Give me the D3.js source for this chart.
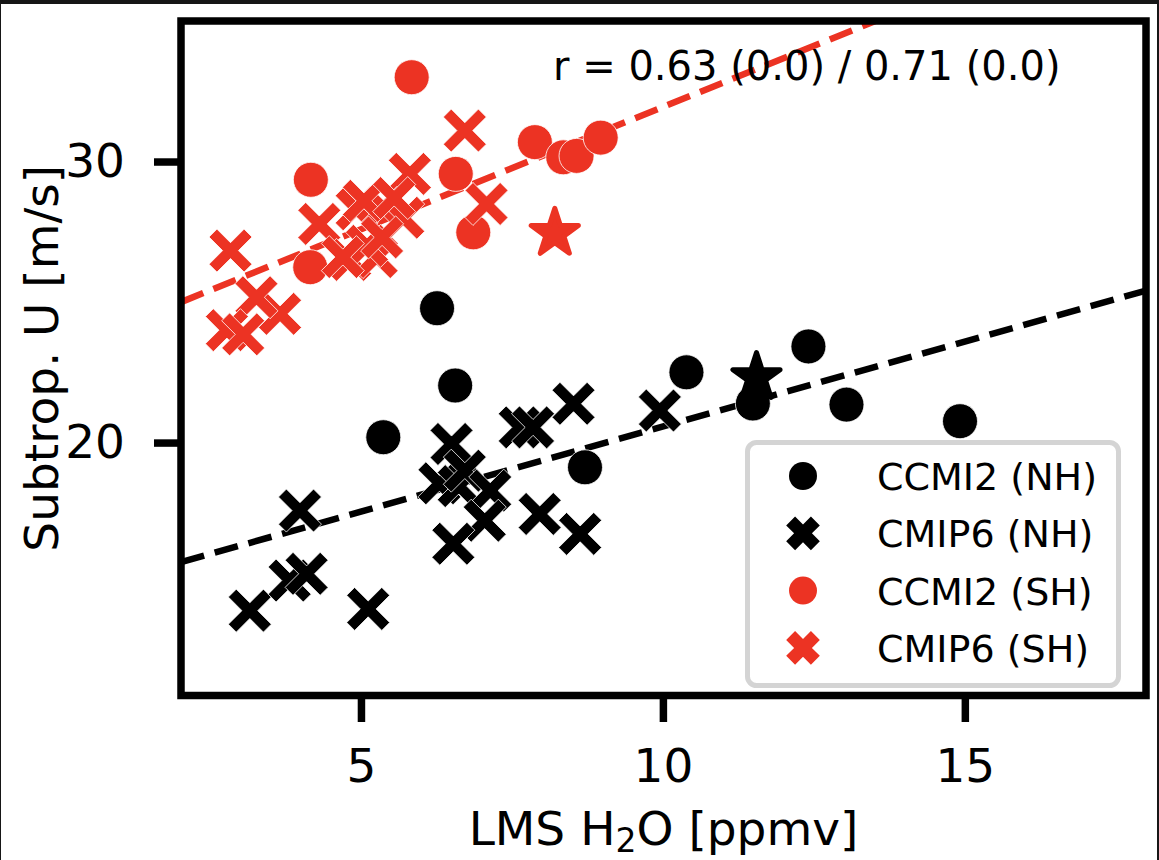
<!DOCTYPE html>
<html>
<head>
<meta charset="utf-8">
<script src="https://cdn.jsdelivr.net/npm/d3@7"></script>
<style>
  body { margin: 0; background: #fff; }
  svg { display: block; font-family: "DejaVu Sans", sans-serif; }
</style>
</head>
<body>
<svg id="chart" width="1159" height="860"></svg>
<script>
// ---- data ----
var xTicks = [5, 10, 15];
var yTicks = [20, 30];
var xDomain = [2.02, 18.0];
var yDomain = [11, 35];

// CCMI2 NH (black circles)
var ccmiNH = [[6.26, 24.78], [6.56, 22.03], [5.37, 20.19], [8.71, 19.12], [10.39, 22.5],
              [11.49, 21.39], [12.41, 23.42], [13.04, 21.35], [14.92, 20.76]];
// CMIP6 NH (black crosses)
var cmipNH = [[3.99, 17.58], [3.16, 14.02], [3.82, 15.09], [4.10, 15.33], [5.12, 14.08],
              [6.50, 19.95], [6.30, 18.55], [6.62, 18.45], [6.72, 19.0], [7.14, 18.29],
              [7.05, 17.22], [6.53, 16.4], [7.63, 20.54], [7.85, 20.54], [8.52, 21.38],
              [7.96, 17.46], [8.63, 16.75], [9.95, 21.14]];
// CCMI2 SH (red circles)
var ccmiSH = [[5.84, 33.0], [4.17, 29.35], [6.57, 29.56], [7.88, 30.69], [8.35, 30.15],
              [8.57, 30.2], [8.97, 30.85], [6.86, 27.48], [4.16, 26.24]];
// CMIP6 SH (red crosses)
var cmipSH = [[6.72, 31.1], [5.81, 29.56], [7.08, 28.49], [4.31, 27.78], [2.84, 26.83],
              [3.66, 24.58], [3.27, 25.17], [2.78, 24.0], [3.05, 23.85], [4.82, 26.5],
              [5.26, 26.6], [4.93, 28.3], [5.37, 28.35], [5.7, 28.0], [5.1, 27.0],
              [5.35, 27.3], [4.7, 26.6], [5.05, 28.6], [5.55, 28.7]];
// multi-model means (stars)
var meanNH = [[11.55, 22.32]];
var meanSH = [[8.21, 27.45]];

// regression fits: [intercept, slope]
var fitNH = [14.52, 0.605];
var fitSH = [23.24, 0.87];

var legendNames = ["CCMI2 (NH)", "CMIP6 (NH)", "CCMI2 (SH)", "CMIP6 (SH)"];
var rText = "r = 0.63 (0.0) / 0.71 (0.0)";

// ---- drawing ----
var RED = "#ec3323", BLACK = "#000000";
var svg = d3.select("#chart");
var plotL = 181, plotR = 1146, plotT = 21, plotB = 695.5;

var x = d3.scaleLinear().domain(xDomain).range([plotL, plotR]);
var y = d3.scaleLinear().domain(yDomain).range([plotB, plotT]);

svg.append("rect").attr("width", 1159).attr("height", 860).attr("fill", "#fff");
// dark edges of the screenshot
svg.append("rect").attr("x", 0).attr("y", 0).attr("width", 1159).attr("height", 4).attr("fill", "#161616");
svg.append("rect").attr("x", 0).attr("y", 0).attr("width", 1).attr("height", 860).attr("fill", "#161616");
svg.append("rect").attr("x", 1157).attr("y", 0).attr("width", 2).attr("height", 860).attr("fill", "#161616");

svg.append("clipPath").attr("id", "plotClip")
  .append("rect").attr("x", plotL).attr("y", plotT)
  .attr("width", plotR - plotL).attr("height", plotB - plotT);

var plot = svg.append("g").attr("clip-path", "url(#plotClip)");

// filled "X" marker: plus sign rotated 45deg
function xPath(L, h) {
  var pts = [[-h, -L], [h, -L], [h, -h], [L, -h], [L, h], [h, h],
             [h, L], [-h, L], [-h, h], [-L, h], [-L, -h], [-h, -h]];
  var c = Math.SQRT1_2;
  return "M" + pts.map(function(p) {
    return [(p[0] - p[1]) * c, (p[0] + p[1]) * c].map(function(v) { return v.toFixed(2); }).join(",");
  }).join("L") + "Z";
}

// regression lines
var fits = [{c: fitNH, color: BLACK}, {c: fitSH, color: RED}];
plot.selectAll("line.fit")
  .data(fits)
  .enter().append("line")
  .attr("class", "fit")
  .attr("x1", x(xDomain[0]))
  .attr("x2", x(xDomain[1]))
  .attr("y1", function(d) { return y(d.c[0] + d.c[1] * xDomain[0]); })
  .attr("y2", function(d) { return y(d.c[0] + d.c[1] * xDomain[1]); })
  .attr("stroke", function(d) { return d.color; })
  .attr("stroke-width", 6.5)
  .attr("stroke-dasharray", "24,11");

function drawCircles(data, color) {
  plot.append("g").selectAll("circle")
    .data(data)
    .enter().append("circle")
    .attr("cx", function(d) { return x(d[0]); })
    .attr("cy", function(d) { return y(d[1]); })
    .attr("r", 17.5)
    .attr("fill", color)
    .attr("stroke", "#fff")
    .attr("stroke-width", 0.8);
}

function drawCrosses(data, color) {
  var shape = xPath(24.8, 5.6);
  plot.append("g").selectAll("path")
    .data(data)
    .enter().append("path")
    .attr("d", shape)
    .attr("transform", function(d) { return "translate(" + x(d[0]) + "," + y(d[1]) + ")"; })
    .attr("fill", color)
    .attr("stroke", "#fff")
    .attr("stroke-width", 0.8);
}

function drawStars(data, color) {
  var star = d3.symbol().type(d3.symbolStar).size(690);
  plot.append("g").selectAll("path")
    .data(data)
    .enter().append("path")
    .attr("d", star)
    .attr("transform", function(d) { return "translate(" + x(d[0]) + "," + y(d[1]) + ")"; })
    .attr("fill", color)
    .attr("stroke", color)
    .attr("stroke-width", 5)
    .attr("stroke-linejoin", "round");
}

drawCircles(ccmiNH, BLACK);
drawCrosses(cmipNH, BLACK);
drawCircles(ccmiSH, RED);
drawCrosses(cmipSH, RED);
drawStars(meanNH, BLACK);
drawStars(meanSH, RED);

// axes
function styleAxis(g) {
  g.select(".domain").remove();
  g.selectAll(".tick line").attr("stroke", "#000").attr("stroke-width", 7.5);
  g.selectAll(".tick text").attr("fill", "#000").attr("font-size", 47)
    .attr("font-family", "'DejaVu Sans', sans-serif");
}

svg.append("g")
  .attr("transform", "translate(" + plotL + ",0)")
  .call(d3.axisLeft(y).tickValues(yTicks).tickSize(27).tickPadding(29).tickFormat(d3.format("d")))
  .call(styleAxis);

svg.append("g")
  .attr("transform", "translate(0," + plotB + ")")
  .call(d3.axisBottom(x).tickValues(xTicks).tickSize(26.5).tickPadding(27).tickFormat(d3.format("d")))
  .call(styleAxis);

// frame
svg.append("rect")
  .attr("x", plotL).attr("y", plotT)
  .attr("width", plotR - plotL).attr("height", plotB - plotT)
  .attr("fill", "none")
  .attr("stroke", "#000")
  .attr("stroke-width", 7.5);

// axis labels
var xl = svg.append("text")
  .attr("x", (plotL + plotR) / 2)
  .attr("y", 845)
  .attr("text-anchor", "middle")
  .attr("font-size", 47)
  .attr("fill", "#000");
xl.append("tspan").text("LMS H");
xl.append("tspan").attr("font-size", 33).attr("dy", 7).text("2");
xl.append("tspan").attr("dy", -7).text("O [ppmv]");

svg.append("text")
  .attr("transform", "translate(58," + (plotT + plotB) / 2 + ") rotate(-90)")
  .attr("text-anchor", "middle")
  .attr("font-size", 47)
  .attr("fill", "#000")
  .text("Subtrop. U [m/s]");

// correlation annotation
svg.append("text")
  .attr("x", 553)
  .attr("y", 80)
  .attr("font-size", 40)
  .attr("fill", "#000")
  .text(rText);

// legend
var legend = svg.append("g");
legend.append("rect")
  .attr("x", 747.5).attr("y", 442.5)
  .attr("width", 371).attr("height", 243)
  .attr("rx", 9).attr("ry", 9)
  .attr("fill", "#fff")
  .attr("fill-opacity", 0.8)
  .attr("stroke", "#d4d4d4")
  .attr("stroke-width", 5);

var legendItems = [
  {name: legendNames[0], color: BLACK, shape: "circle"},
  {name: legendNames[1], color: BLACK, shape: "x"},
  {name: legendNames[2], color: RED, shape: "circle"},
  {name: legendNames[3], color: RED, shape: "x"}
];

var rows = legend.selectAll("g.item")
  .data(legendItems)
  .enter().append("g")
  .attr("class", "item")
  .attr("transform", function(d, i) { return "translate(0," + (476 + i * 57.3) + ")"; });

rows.filter(function(d) { return d.shape === "circle"; })
  .append("circle")
  .attr("cx", 803).attr("cy", 0).attr("r", 14)
  .attr("fill", function(d) { return d.color; });

rows.filter(function(d) { return d.shape === "x"; })
  .append("path")
  .attr("d", xPath(17.5, 6.3))
  .attr("transform", "translate(803,0)")
  .attr("fill", function(d) { return d.color; });

rows.append("text")
  .attr("x", 877)
  .attr("y", 14)
  .attr("font-size", 38)
  .attr("fill", "#000")
  .text(function(d) { return d.name; });
</script>
</body>
</html>
